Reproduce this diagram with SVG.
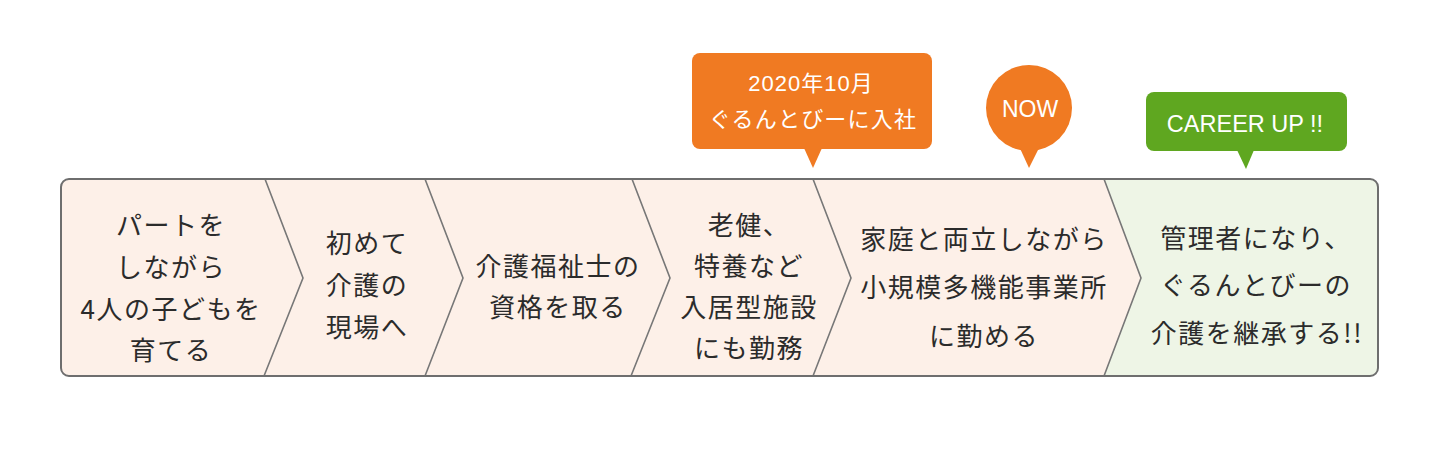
<svg xmlns="http://www.w3.org/2000/svg" width="1440" height="460" viewBox="0 0 1440 460">
  <style>
    .step { font-family: "Noto Sans CJK JP", "Liberation Sans", sans-serif; font-size: 26px; letter-spacing: 1.5px; fill: #2b2b2b; text-anchor: middle; dominant-baseline: central; }
    .sep { fill: none; stroke: #777777; stroke-width: 1.6; stroke-linejoin: miter; }
    .frame { fill: none; stroke: #6e6e6e; stroke-width: 2; }
    .orange { fill: #f07a22; }
    .green { fill: #5fa720; }
    .ctext { font-family: "Liberation Sans", "Noto Sans CJK JP", sans-serif; fill: #ffffff; text-anchor: middle; }
  </style>
  <rect width="1440" height="460" fill="#ffffff"/>

  <!-- background of the timeline -->
  <g id="timeline">
    <rect x="61" y="179" width="1317" height="197" rx="8" ry="8" fill="#fdf0e8"/>
    <path d="M1104,179 L1141,278 L1104,376 L1370,376 A8,8 0 0 0 1378,368 L1378,187 A8,8 0 0 0 1370,179 Z" fill="#eef5e6"/>
  </g>

  <g id="connectors">
    <polyline class="sep" points="265,179 303,278 264,376"/>
    <polyline class="sep" points="425,179 463,278 425,376"/>
    <polyline class="sep" points="632,179 670,278 631,376"/>
    <polyline class="sep" points="813,179 851,278 813,376"/>
    <polyline class="sep" points="1104,179 1141,278 1104,376"/>
    <rect class="frame" x="61" y="179" width="1317" height="197" rx="8" ry="8"/>
  </g>

  <g id="step1">
    <text class="step" x="171" y="223">パートを</text>
    <text class="step" x="171" y="265">しながら</text>
    <text class="step" x="171" y="307">4人の子どもを</text>
    <text class="step" x="171" y="348">育てる</text>
  </g>
  <g id="step2">
    <text class="step" x="367" y="241">初めて</text>
    <text class="step" x="367" y="283">介護の</text>
    <text class="step" x="367" y="325">現場へ</text>
  </g>
  <g id="step3">
    <text class="step" x="558" y="264">介護福祉士の</text>
    <text class="step" x="558" y="305">資格を取る</text>
  </g>
  <g id="step4">
    <text class="step" x="749" y="223">老健、</text>
    <text class="step" x="749" y="264">特養など</text>
    <text class="step" x="749" y="305">入居型施設</text>
    <text class="step" x="749" y="346">にも勤務</text>
  </g>
  <g id="step5">
    <text class="step" x="984" y="237">家庭と両立しながら</text>
    <text class="step" x="984" y="285">小規模多機能事業所</text>
    <text class="step" x="984" y="334">に勤める</text>
  </g>
  <g id="step6">
    <text class="step" x="1256" y="236">管理者になり、</text>
    <text class="step" x="1256" y="283">ぐるんとびーの</text>
    <text class="step" x="1257" y="331">介護を継承する!!</text>
  </g>

  <g id="callout-join">
    <rect class="orange" x="692" y="53" width="240" height="96" rx="8" ry="8"/>
    <polygon class="orange" points="804,148 822,148 813,168"/>
    <text class="ctext" x="811" y="91" font-size="22" letter-spacing="1">2020年10月</text>
    <text class="ctext" x="813" y="127" font-size="22" letter-spacing="1.2">ぐるんとびーに入社</text>
  </g>

  <g id="callout-now">
    <circle class="orange" cx="1029" cy="108" r="43"/>
    <polygon class="orange" points="1018,144 1041,144 1029,168"/>
    <text class="ctext" x="1030" y="117" font-size="23">NOW</text>
  </g>

  <g id="callout-career">
    <rect class="green" x="1146" y="92" width="201" height="59" rx="8" ry="8"/>
    <polygon class="green" points="1237,150 1254,150 1246,169"/>
    <text class="ctext" x="1245" y="132" font-size="23.5">CAREER UP !!</text>
  </g>
</svg>
